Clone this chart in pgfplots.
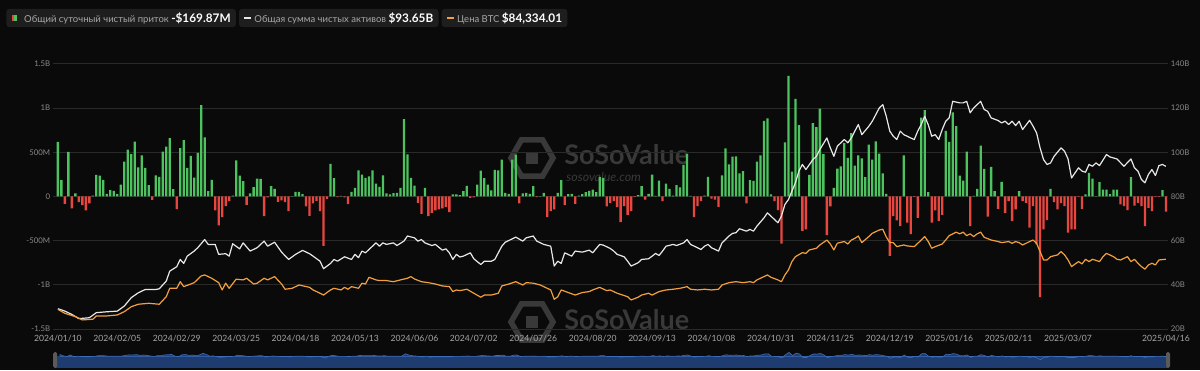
\documentclass[border=0pt]{standalone}
\usepackage{fontspec}
\setmainfont{Lato}
\usepackage{pgfplots}
\pgfplotsset{compat=1.18}
\usepackage{pgfplotstable}
\usetikzlibrary{shapes.geometric}

\definecolor{bg}{HTML}{0A0A0A}
\definecolor{gridc}{HTML}{2A2A2A}
\definecolor{posg}{HTML}{4CC35E}
\definecolor{negr}{HTML}{E8473F}
\definecolor{wline}{HTML}{E8E8E8}
\definecolor{oline}{HTML}{F2A03D}
\definecolor{tickc}{HTML}{8A8A8A}
\definecolor{xtc}{HTML}{A6A6A6}
\definecolor{legbg}{HTML}{1E1E1E}
\definecolor{legtxt}{HTML}{A8A8A8}
\definecolor{wm}{HTML}{393939}
\definecolor{sbfill}{HTML}{1F3C70}
\definecolor{sbline}{HTML}{3D6CBB}
\definecolor{handle}{HTML}{5A5A5A}

% daily net inflow, million USD
\pgfplotstableread[row sep=\\]{
i f\\
0 617\\1 184\\2 -83\\3 504\\4 -135\\5 34\\6 -64\\7 -98\\8 -158\\9 -79\\
10 11\\11 244\\12 237\\13 188\\14 30\\15 71\\16 64\\17 26\\18 135\\19 395\\
20 530\\21 481\\22 620\\23 331\\24 466\\25 323\\26 128\\27 -38\\28 240\\29 222\\
30 508\\31 564\\32 662\\33 83\\34 -143\\35 549\\36 639\\37 323\\38 459\\39 214\\
40 493\\41 1034\\42 669\\43 60\\44 188\\45 -158\\46 -327\\47 -233\\48 -109\\49 -53\\
50 11\\51 410\\52 237\\53 173\\54 -94\\55 34\\56 105\\57 203\\58 199\\59 -222\\
60 -11\\61 117\\62 86\\63 -60\\64 -45\\65 -64\\66 -165\\67 5\\68 53\\69 53\\
70 26\\71 -113\\72 -218\\73 -79\\74 -49\\75 -165\\76 -560\\77 -26\\78 368\\79 207\\
80 -8\\81 8\\82 -11\\83 -86\\84 53\\85 98\\86 297\\87 248\\88 211\\89 229\\
90 297\\91 147\\92 109\\93 240\\94 34\\95 23\\96 38\\97 41\\98 98\\99 876\\
100 478\\101 211\\102 124\\103 -71\\104 -196\\105 98\\106 -222\\107 -184\\108 -158\\109 -147\\
110 -135\\111 -117\\112 -177\\113 23\\114 23\\115 15\\116 60\\117 120\\118 -15\\119 -11\\
120 135\\121 293\\122 207\\123 135\\124 68\\125 301\\126 297\\127 417\\128 41\\129 30\\
130 417\\131 474\\132 -79\\133 34\\134 41\\135 30\\136 117\\137 -8\\138 5\\139 41\\
140 -233\\141 -165\\142 -147\\143 41\\144 184\\145 -98\\146 26\\147 30\\148 -83\\149 11\\
150 26\\151 49\\152 64\\153 79\\154 49\\155 222\\156 211\\157 -113\\158 -72\\159 -53\\
160 -120\\161 -290\\162 -110\\163 -207\\164 -165\\165 -5\\166 15\\167 117\\168 -34\\169 30\\
170 248\\171 8\\172 180\\173 -53\\174 147\\175 86\\176 10\\177 128\\178 102\\179 357\\
180 481\\181 8\\182 -233\\183 -109\\184 -53\\185 11\\186 222\\187 -23\\188 -34\\189 -117\\
190 240\\191 545\\192 365\\193 451\\194 455\\195 263\\196 286\\197 -79\\198 184\\199 177\\
200 395\\201 466\\202 857\\203 884\\204 23\\205 -53\\206 -154\\207 -534\\208 613\\209 1365\\
210 282\\211 1105\\212 808\\213 -390\\214 -372\\215 244\\216 830\\217 785\\218 996\\219 481\\
220 -436\\221 -113\\222 98\\223 316\\224 342\\225 605\\226 436\\227 718\\228 350\\229 466\\
230 432\\231 218\\232 587\\233 417\\234 624\\235 485\\236 263\\237 30\\238 -673\\239 -221\\
240 -271\\241 -335\\242 466\\243 -297\\244 -425\\245 -5\\246 -241\\247 892\\248 978\\249 49\\
250 -297\\251 -158\\252 -278\\253 -207\\254 743\\255 617\\256 953\\257 796\\258 237\\259 180\\
260 507\\261 -335\\262 8\\263 86\\264 575\\265 312\\266 -229\\267 335\\268 60\\269 -139\\
270 165\\271 -184\\272 -53\\273 -278\\274 -147\\275 60\\276 -53\\277 -71\\278 -353\\279 -109\\
280 -541\\281 -1139\\282 -372\\283 -267\\284 86\\285 -64\\286 -147\\287 -71\\288 -109\\289 -410\\
290 -372\\291 -372\\292 -5\\293 -139\\294 23\\295 267\\296 203\\297 5\\298 162\\299 79\\
300 79\\301 26\\302 79\\303 79\\304 -90\\305 -109\\306 -154\\307 218\\308 -102\\309 -71\\
310 -109\\311 -335\\312 -128\\313 -165\\314 -5\\315 -5\\316 71\\317 -170\\
}\flows

% total net assets, billion USD
\pgfplotstableread[row sep=\\]{
i a\\
0 29.2\\2 28.1\\4 26.6\\6 24.7\\9 25.1\\11 27.4\\14 27.8\\17 28.1\\19 30.4\\21 34.2\\
23 36.4\\25 37.9\\28 37.9\\29 38.2\\31 41.7\\32 46.2\\34 48.2\\35 51.5\\36 49.7\\37 53.0\\
39 55.3\\40 56.8\\42 60.5\\43 58.3\\45 58.3\\46 53.8\\48 54.1\\49 53.0\\50 58.6\\52 56.3\\
53 59.0\\55 55.3\\57 56.8\\59 59.8\\60 57.5\\62 59.3\\64 54.8\\66 51.5\\68 53.8\\70 55.6\\
72 54.1\\73 53.0\\75 50.7\\76 47.3\\78 49.7\\79 51.5\\80 50.7\\82 52.7\\84 51.5\\85 53.8\\
86 52.3\\87 55.3\\88 54.5\\90 57.5\\91 59.0\\92 57.5\\93 59.0\\94 58.3\\96 59.0\\97 57.8\\
99 59.8\\100 62.1\\102 61.3\\103 59.8\\104 60.5\\105 59.0\\107 57.8\\108 58.3\\110 55.7\\111 56.3\\
112 54.5\\113 51.5\\114 53.8\\115 52.6\\116 53.0\\118 54.5\\119 51.8\\121 49.2\\122 50.7\\124 50.7\\
125 51.5\\127 57.5\\128 59.3\\131 61.6\\133 59.8\\134 61.3\\136 62.1\\137 59.8\\139 58.3\\141 57.5\\
142 48.5\\143 50.7\\144 49.7\\145 54.5\\147 53.0\\148 55.3\\150 54.8\\152 55.7\\153 54.5\\155 58.3\\
156 58.0\\158 56.5\\159 55.3\\160 53.8\\162 52.7\\163 50.7\\164 48.5\\166 50.0\\167 51.5\\169 51.8\\
170 53.0\\171 54.2\\172 53.3\\173 55.3\\174 57.5\\176 58.3\\177 57.8\\179 59.0\\180 60.5\\181 58.3\\
183 56.8\\184 56.0\\185 57.5\\186 58.3\\187 56.8\\189 55.3\\190 59.0\\192 62.1\\193 63.3\\194 63.6\\
195 65.4\\197 64.3\\198 65.1\\199 64.3\\200 66.6\\202 70.3\\203 72.6\\204 71.1\\206 68.1\\207 71.1\\
208 76.4\\209 78.6\\211 86.2\\212 91.5\\213 94.5\\214 92.2\\216 96.7\\217 98.2\\218 101.3\\220 106.5\\
221 102.0\\222 98.2\\223 102.8\\224 104.3\\225 105.8\\226 104.3\\227 106.5\\228 109.6\\229 112.6\\230 108.0\\
232 111.8\\233 114.1\\235 120.1\\236 121.6\\237 116.3\\238 109.6\\239 107.3\\240 105.8\\241 109.6\\242 108.0\\
243 107.3\\244 106.5\\245 105.8\\246 109.6\\247 112.6\\248 116.3\\249 112.5\\250 107.3\\251 108.0\\252 105.8\\
253 110.3\\254 114.1\\255 115.6\\256 123.1\\258 122.4\\259 122.4\\260 123.1\\261 117.9\\262 120.1\\264 123.1\\
265 119.4\\266 118.6\\267 115.6\\269 114.4\\270 113.3\\271 114.1\\272 112.6\\273 114.1\\274 112.1\\275 114.1\\
276 110.3\\278 114.5\\279 111.8\\280 108.8\\281 102.0\\282 96.7\\283 94.5\\284 95.2\\285 98.2\\287 102.0\\
288 100.5\\289 97.0\\290 88.4\\292 93.0\\293 91.5\\294 91.0\\295 94.5\\296 93.7\\297 95.2\\298 94.0\\
300 99.0\\301 97.9\\303 97.0\\305 93.7\\307 97.0\\308 93.0\\309 91.5\\310 87.7\\311 86.2\\312 90.0\\
313 92.2\\314 89.5\\315 94.0\\316 94.5\\317 93.65\\
}\assets

% BTC price, thousand USD
\pgfplotstableread[row sep=\\]{
i p\\
0 47.9\\2 45.0\\5 42.6\\7 40.2\\10 40.7\\11 43.1\\14 43.1\\17 43.8\\19 46.2\\21 49.8\\
23 51.6\\26 52.3\\29 51.6\\31 57.1\\32 63.2\\34 63.2\\35 68.0\\36 64.4\\38 66.3\\39 67.3\\
41 72.2\\42 72.9\\44 70.5\\46 67.3\\47 62.0\\48 66.9\\49 63.2\\51 69.8\\53 69.3\\54 70.5\\
56 66.3\\57 66.9\\59 70.5\\60 69.3\\62 71.7\\64 66.3\\65 62.5\\67 63.2\\69 65.6\\72 63.9\\
73 62.0\\75 59.6\\76 58.3\\78 62.0\\79 63.2\\81 62.0\\82 63.9\\83 62.5\\84 64.4\\86 63.2\\
87 66.9\\88 66.3\\89 71.2\\91 69.3\\92 68.8\\94 68.8\\96 68.0\\98 69.3\\100 70.5\\101 71.7\\
102 70.0\\104 68.0\\106 67.3\\108 66.3\\110 64.9\\112 64.4\\113 60.8\\114 62.0\\115 61.5\\117 62.5\\
119 59.6\\121 56.7\\122 58.3\\124 58.3\\126 59.6\\127 64.9\\129 66.3\\131 68.0\\133 65.6\\134 67.3\\
136 66.9\\138 65.6\\141 62.0\\142 55.2\\143 57.0\\144 62.0\\146 60.1\\148 58.3\\150 60.1\\152 60.8\\
153 62.0\\155 63.9\\157 61.5\\158 62.0\\160 59.6\\163 57.1\\164 54.7\\166 56.7\\167 58.3\\169 59.6\\
170 58.3\\172 60.8\\174 62.0\\176 62.5\\178 63.2\\180 64.4\\181 62.5\\183 62.0\\185 62.5\\187 62.0\\
189 62.5\\190 65.6\\192 67.3\\194 68.0\\196 67.3\\198 68.0\\199 67.3\\200 69.3\\202 71.7\\203 72.9\\
204 71.2\\206 69.3\\207 68.0\\208 72.9\\209 76.5\\210 82.6\\211 86.2\\213 89.1\\214 88.6\\215 91.1\\
217 92.3\\218 94.7\\220 98.3\\221 95.4\\222 91.1\\223 96.0\\225 97.2\\226 95.4\\227 98.3\\228 99.5\\
229 101.2\\230 96.4\\232 100.8\\233 103.2\\235 105.6\\236 106.1\\237 100.5\\238 96.5\\239 96.4\\240 93.5\\
242 94.7\\243 94.0\\245 93.5\\246 95.9\\247 98.3\\248 100.8\\249 97.2\\250 92.3\\251 93.5\\253 95.4\\
254 98.3\\255 101.5\\257 104.0\\258 102.8\\259 104.0\\260 101.5\\261 102.8\\262 100.8\\263 102.8\\264 104.0\\
265 100.3\\267 98.3\\269 97.2\\270 96.4\\272 97.2\\273 95.9\\274 97.2\\275 96.4\\276 94.7\\278 97.2\\
279 98.3\\280 95.9\\281 89.9\\282 83.8\\283 83.8\\284 86.2\\286 87.5\\287 89.9\\288 87.5\\289 83.8\\
290 79.0\\292 82.6\\293 80.9\\294 84.3\\295 82.6\\296 84.3\\298 82.6\\299 86.2\\300 88.6\\302 86.2\\
303 84.3\\304 83.8\\306 86.2\\307 82.6\\308 84.3\\309 81.4\\310 79.0\\311 77.1\\312 80.2\\313 81.4\\
314 80.2\\315 83.8\\317 84.33\\
}\price

\begin{document}
\begin{tikzpicture}
\fill[bg] (0,0) rectangle (600pt,185pt);

% watermarks
\node[regular polygon, regular polygon sides=6, minimum size=21pt, draw=wm, line width=2.8pt, inner sep=0pt] at (266pt,106pt) {};
\fill[wm] (263pt,103pt) rectangle (269pt,109pt);
\node[anchor=west, inner sep=0pt, text=wm, font=\fontsize{13.5}{14}\selectfont\bfseries] at (282pt,107.5pt) {SoSoValue};
\node[anchor=west, inner sep=0pt, text=wm, font=\fontsize{6.2}{7}\selectfont\itshape] at (283pt,96.5pt) {sosovalue.com};
\node[regular polygon, regular polygon sides=6, minimum size=21pt, draw=wm, line width=2.8pt, inner sep=0pt] at (266pt,24pt) {};
\fill[wm] (263pt,21pt) rectangle (269pt,27pt);
\node[anchor=west, inner sep=0pt, text=wm, font=\fontsize{13.5}{14}\selectfont\bfseries] at (282pt,25pt) {SoSoValue};

% main axis: daily net inflow
\begin{axis}[
  at={(26.5pt,20.5pt)}, anchor=south west,
  width=557.5pt, height=132.5pt, scale only axis,
  xmin=-1.4, xmax=317.6, ymin=-1500, ymax=1500,
  axis line style={draw=none},
  major tick length=0pt,
  ymajorgrids, major grid style={gridc, line width=0.5pt},
  ytick={-1500,-1000,-500,0,500,1000,1500},
  yticklabels={-1.5B,-1B,-500M,0,500M,1B,1.5B},
  yticklabel style={font=\fontsize{3.9}{4}\selectfont, text=tickc, inner sep=1.2pt},
  xtick={0,17,34,51,68,85,102,119,136,153,170,187,204,221,238,255,272,289,317},
  xticklabels={2024/01/10,2024/02/05,2024/02/29,2024/03/25,2024/04/18,2024/05/13,2024/06/06,2024/07/02,2024/07/26,2024/08/20,2024/09/13,2024/10/08,2024/10/31,2024/11/25,2024/12/19,2025/01/16,2025/02/11,2025/03/07,2025/04/16},
  xticklabel style={font=\fontsize{4.3}{5}\selectfont, text=xtc, inner sep=0pt, yshift=-3pt},
]
\addplot[ybar, bar width=1.15pt, fill=posg, draw=none, restrict y to domain=0:5000] table[x=i,y=f]{\flows};
\addplot[ybar, bar width=1.15pt, fill=negr, draw=none, restrict y to domain=-5000:0] table[x=i,y=f]{\flows};
\end{axis}

% right axis: total net assets
\begin{axis}[
  at={(26.5pt,20.5pt)}, anchor=south west,
  width=557.5pt, height=132.5pt, scale only axis,
  xmin=-1.4, xmax=317.6, ymin=20, ymax=140,
  axis x line=none, axis y line*=right,
  axis line style={draw=none},
  major tick length=0pt,
  xtick=\empty,
  ytick={20,40,60,80,100,120,140},
  yticklabels={20B,40B,60B,80B,100B,120B,140B},
  yticklabel style={font=\fontsize{3.9}{4}\selectfont, text=tickc, inner sep=1.2pt},
]
\addplot[wline, line width=0.6pt, line join=round] table[x=i,y=a]{\assets};
\end{axis}

% hidden axis: BTC price
\begin{axis}[
  at={(26.5pt,20.5pt)}, anchor=south west,
  width=557.5pt, height=132.5pt, scale only axis,
  xmin=-1.4, xmax=317.6, ymin=33.6, ymax=226.3,
  hide axis,
]
\addplot[oline, line width=0.6pt, line join=round] table[x=i,y=p]{\price};
\end{axis}

% scrollbar mini chart
\begin{axis}[
  at={(27.5pt,1pt)}, anchor=south west,
  width=556.5pt, height=8pt, scale only axis,
  xmin=-1.4, xmax=317.6, ymin=-4000, ymax=1500,
  hide axis, clip=false,
]
\fill[sbfill] (axis cs:-1.4,-4000) rectangle (axis cs:317.6,0);
\addplot[fill=sbfill, draw=sbline, line width=0.3pt] table[x=i,y=f]{\flows} \closedcycle;
\end{axis}
\fill[handle, rounded corners=0.8pt] (26.6pt,1pt) rectangle (28.6pt,9pt);
\fill[handle, rounded corners=0.8pt] (583pt,1pt) rectangle (585pt,9pt);

% legend
\node[anchor=west, fill=legbg, rounded corners=1.5pt, inner xsep=2.6pt, inner ysep=0pt, minimum height=9.2pt, text=legtxt, font=\fontsize{4.75}{6}\selectfont] (L1) at (3pt,176pt)
 {\textcolor{negr}{\rule[0.6pt]{1.4pt}{2.8pt}}\textcolor{posg}{\rule[0.6pt]{1.4pt}{2.8pt}}\hspace{3.5pt}Общий суточный чистый приток \textcolor{white}{\fontsize{5.9}{6}\selectfont\bfseries -\$169.87M}};
\node[anchor=west, fill=legbg, rounded corners=1.5pt, inner xsep=2.6pt, inner ysep=0pt, minimum height=9.2pt, text=legtxt, font=\fontsize{4.75}{6}\selectfont] (L2) at ([xshift=1.2pt]L1.east)
 {\textcolor{wline}{\rule[1.4pt]{3.6pt}{1.2pt}}\hspace{1.5pt}Общая сумма чистых активов \textcolor{white}{\fontsize{5.9}{6}\selectfont\bfseries \$93.65B}};
\node[anchor=west, fill=legbg, rounded corners=1.5pt, inner xsep=2.6pt, inner ysep=0pt, minimum height=9.2pt, text=legtxt, font=\fontsize{4.75}{6}\selectfont] (L3) at ([xshift=1.2pt]L2.east)
 {\textcolor{oline}{\rule[1.4pt]{3.6pt}{1.2pt}}\hspace{1.5pt}Цена BTC \textcolor{white}{\fontsize{5.9}{6}\selectfont\bfseries \$84,334.01}};
\end{tikzpicture}
\end{document}
